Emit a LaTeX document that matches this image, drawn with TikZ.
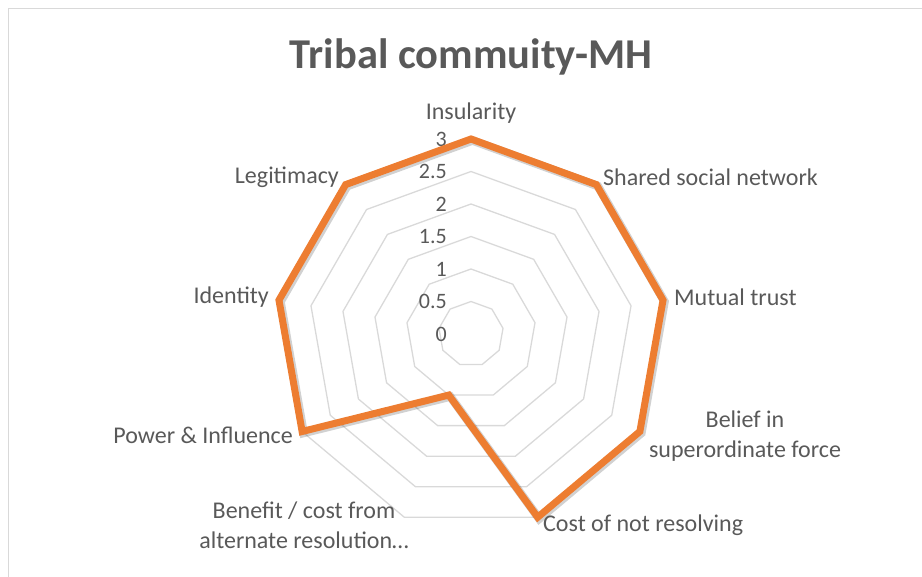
\documentclass[tikz,border=0pt]{standalone}
\usepackage{fontspec}
\setmainfont{Carlito}
\usepackage{tikz}
\definecolor{txtgray}{HTML}{595959}
\definecolor{gridgray}{HTML}{D9D9D9}
\definecolor{seriesorange}{HTML}{ED7D31}
\tikzset{
  gridring/.style={draw=gridgray, line width=1.3pt},
  axislabel/.style={text=txtgray, font=\fontsize{24}{30}\selectfont, inner sep=0pt},
  ticklabel/.style={text=txtgray, font=\fontsize{22}{26}\selectfont, inner sep=0pt, anchor=east},
  series/.style={draw=seriesorange, line width=7pt, line join=miter}
}

\begin{document}
\begin{tikzpicture}[x=1pt,y=-1pt]
\useasboundingbox (0,0) rectangle (922,577);
\draw[gridgray, line width=1.3pt] (8.5,8.5) rectangle (935,590);
\node[text=txtgray, font=\fontsize{42.5}{50}\selectfont\bfseries] (title) at (471,57) {Tribal commuity-MH};
% rings
\foreach \v in {0.5,1,...,3}
  \draw[gridring] (471,{334-65*\v}) foreach \a in {40,80,...,320} { -- ({471+65*\v*sin(\a)},{334-65*\v*cos(\a)}) } -- cycle;
\foreach \v [count=\i] in {0,0.5,1,1.5,2,2.5,3}
  \node[ticklabel] (tick\i) at (447,{334-65*\v}) {\v};
% series
\foreach \name/\a/\v in {ins/0/3, ssn/40/3, mt/80/3, bsf/120/3, cnr/160/3, bca/200/1, pi/240/3, id/280/3, leg/320/3}
  \coordinate (\name) at ({471+65*\v*sin(\a)},{334-65*\v*cos(\a)});
\draw[series, draw=black, opacity=0.18, line width=8.5pt, transform canvas={shift={(1.5pt,-1.5pt)}}]
  (ins) -- (ssn) -- (mt) -- (bsf) -- (cnr) -- (bca) -- (pi) -- (id) -- (leg) -- cycle;
\draw[series] (ins) -- (ssn) -- (mt) -- (bsf) -- (cnr) -- (bca) -- (pi) -- (id) -- (leg) -- cycle;
% labels
\node[axislabel] (insl) at (471,113) {Insularity};
\node[axislabel, anchor=west] (ssnl) at (603,177) {Shared social network};
\node[axislabel, anchor=west] (mtl) at (674,297) {Mutual trust};
\node[axislabel, align=center] (bsfl) at (745,436) {Belief in\\superordinate force};
\node[axislabel, anchor=west] (cnrl) at (543,525) {Cost of not resolving};
\node[axislabel, align=center] (bcal) at (304,525) {Benefit / cost from\\alternate resolution…};
\node[axislabel, anchor=east] (pil) at (293,435) {Power \& Influence};
\node[axislabel, anchor=east] (idl) at (269,297) {Identity};
\node[axislabel, anchor=east] (legl) at (339,177) {Legitimacy};
\end{tikzpicture}
\end{document}
